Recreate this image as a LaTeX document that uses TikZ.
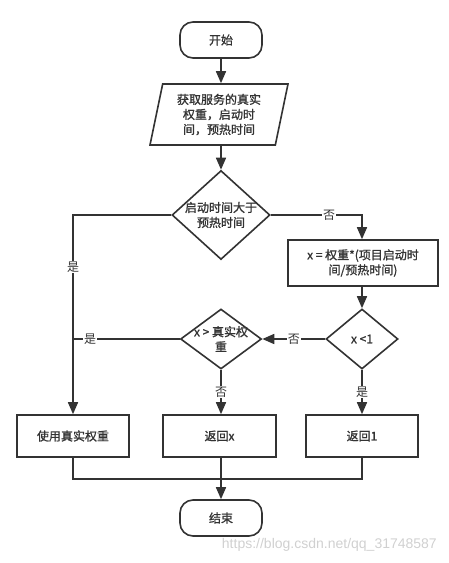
\documentclass[tikz,border=0pt]{standalone}
\usepackage{fontspec}
\setmainfont{Noto Sans CJK SC}
\newfontfamily\heavy[FakeBold=1.2]{Noto Sans CJK SC}
\newfontfamily\wmfont{Liberation Sans}
\usetikzlibrary{shapes.geometric,arrows.meta,calc}
\definecolor{ln}{HTML}{333333}
\definecolor{wm}{HTML}{D0D0D0}
\tikzset{
  base/.style={draw=ln,line width=1.6pt,fill=white,inner sep=0pt,align=center,font=\heavy\fontsize{12}{15}\selectfont,text=ln},
  term/.style={base,rounded corners=13pt,minimum width=82pt,minimum height=36pt},
  io/.style={base,trapezium,trapezium left angle=73,trapezium right angle=107,trapezium stretches body,minimum width=138pt,minimum height=61pt},
  proc/.style={base,minimum width=112pt,minimum height=42pt},
  dec/.style={base,diamond,aspect=1.1},
  txt/.style={align=center,inner sep=0pt,font=\heavy\fontsize{12}{15}\selectfont,text=ln},
  lbl/.style={fill=white,inner sep=1pt,font=\fontsize{12}{14}\selectfont,text=ln},
  arr/.style={draw=ln,line width=1.6pt,-{Triangle[length=12pt,width=10pt]}},
  con/.style={draw=ln,line width=1.6pt},
}
\begin{document}
\begin{tikzpicture}[x=1pt,y=-1pt]
\useasboundingbox (0,0) rectangle (448,563);
\node[term] (start) at (221,40) {开始};
\node[io] (input) at (219,114.5) {获取服务的真实\\权重，启动时\\间，预热时间};
\node[dec,minimum width=98pt,minimum height=89pt] (d1) at (221,215) {};
\node[txt] at (d1) {启动时间大于\\预热时间};
\node[proc,minimum width=150pt,minimum height=46pt] (calc) at (363,263) {x = 权重*(项目启动时\\间/预热时间)};
\node[dec,minimum width=72pt,minimum height=60pt] (d2) at (362,339) {};
\node[txt] at (d2) {x <1};
\node[dec,minimum width=81pt,minimum height=60pt] (d3) at (221,339) {};
\node[txt] at (d3) {x > 真实权\\重};
\node[proc] (use) at (73,436) {使用真实权重};
\node[proc,minimum width=113pt] (retx) at (219.5,436) {返回x};
\node[proc] (ret1) at (362,436) {返回1};
\node[term] (end) at (221,518) {结束};
\node[anchor=east,inner sep=0pt,text=wm,font=\wmfont\fontsize{14}{14}\selectfont] (wmk) at (437,545) {https://blog.csdn.net/qq\_31748587};

\draw[arr] (start.south) -- (start.south |- input.north);
\draw[arr] (start.south |- input.south) -- (d1.north);
\draw[arr] (d1.west) -| (use.north) node[lbl,pos=0.63] {是};
\draw[arr] (d1.east) -| (d2.north |- calc.north) node[lbl,pos=0.32] {否};
\draw[arr] (d2.north |- calc.south) -- (d2.north);
\draw[arr] (d2.west) -- (d3.east) node[lbl,pos=0.5] {否};
\draw[con] (d3.west) -- (d3.west -| use.north) node[lbl,pos=0.84] {是};
\draw[arr] (d3.south) -- (d3.south |- retx.north) node[lbl,midway] {否};
\draw[arr] (d2.south) -- (d2.south |- ret1.north) node[lbl,midway] {是};
\coordinate (j) at (221,479);
\draw[con] (use.south) |- (j) -| (ret1.south);
\draw[arr] (end.north |- retx.south) -- (end.north);
\end{tikzpicture}
\end{document}
